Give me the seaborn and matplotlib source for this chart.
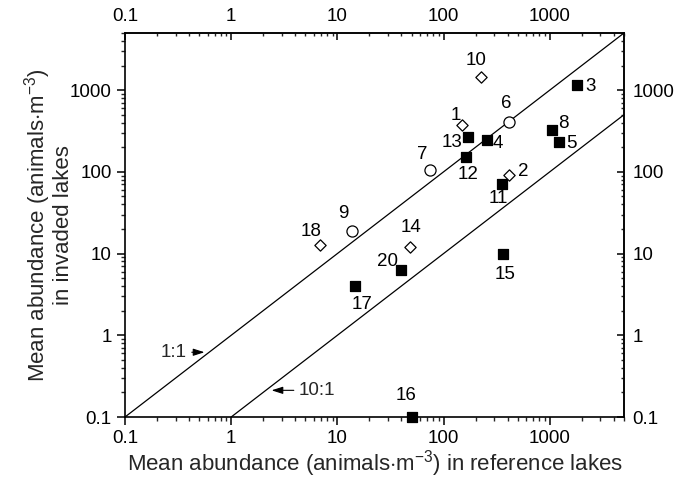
import numpy as np
import pandas as pd
import matplotlib
matplotlib.use("Agg")
import matplotlib.pyplot as plt
import seaborn as sns
from matplotlib.ticker import FixedLocator, FixedFormatter, LogLocator, NullFormatter

# ---------------- data ----------------
lake_ids = ["1", "2", "3", "4", "5", "6", "7", "8", "9", "10",
            "11", "12", "13", "14", "15", "16", "17", "18", "20"]
kinds = ["diamond", "diamond", "square", "square", "square", "circle", "circle",
         "square", "circle", "diamond", "square", "square", "square", "diamond",
         "square", "square", "square", "diamond", "square"]
reference_abund = [149, 412, 1794, 256, 1215, 412, 75, 1044, 13.8, 225,
                   354, 163, 170, 48.4, 362, 50, 14.8, 6.8, 39.9]
invaded_abund = [372, 91, 1148, 244, 230, 405, 105, 323, 18.8, 1438,
                 70, 151, 265, 11.9, 9.8, 0.1, 3.98, 12.6, 6.25]
ratios = [1, 10]
ratio_labels = ["1:1", "10:1"]
tick_values = [0.1, 1, 10, 100, 1000]
tick_labels = ["0.1", "1", "10", "100", "1000"]
axis_limits = [0.1, 5000]

# label offsets (pixels, right / down) for point numbers
label_dx = [-6, 14, 14, 11, 13, -3, -8, 12, -9, -5, -4, 2, -16, 1, 2, -6, 7, -9, -14]
label_dy = [-10, -4, 1, 3, 1, -19, -16, -7, -18, -17, 14, 17, 5, -20, 20, -22, 18, -14, -9]

df = pd.DataFrame({"id": lake_ids, "kind": kinds,
                   "ref": reference_abund, "inv": invaded_abund})

# ---------------- style ----------------
sns.set_theme(style="ticks")
plt.rcParams["font.family"] = ["Liberation Sans", "DejaVu Sans"]
plt.rcParams["mathtext.fontset"] = "custom"
plt.rcParams["mathtext.rm"] = "Liberation Sans"
plt.rcParams["mathtext.it"] = "Liberation Sans:italic"
plt.rcParams["axes.linewidth"] = 1.2

fig = plt.figure(figsize=(6.88, 4.84), dpi=100)
L, R, T, B = 125, 624, 33, 417
ax = fig.add_axes([L / 688, 1 - B / 484, (R - L) / 688, (B - T) / 484])
ax.set_xscale("log")
ax.set_yscale("log")
ax.set_xlim(*axis_limits)
ax.set_ylim(*axis_limits)

# reference lines
for r in ratios:
    xs = np.array([axis_limits[0] * r, axis_limits[1]], dtype=float)
    sns.lineplot(x=xs, y=xs / r, ax=ax, color="black", lw=0.9, zorder=2)

# points
marker_style = {
    "square": dict(marker="s", s=60, color="black", edgecolor="black"),
    "circle": dict(marker="o", s=64, color="white", edgecolor="black"),
    "diamond": dict(marker="D", s=33, color="white", edgecolor="black"),
}
for k, st in marker_style.items():
    sub = df[df["kind"] == k]
    sns.scatterplot(data=sub, x="ref", y="inv", ax=ax, linewidth=0.9,
                    clip_on=False, zorder=5, legend=False, **st)

px2pt = 0.72
for i, row in df.iterrows():
    ax.annotate(row["id"], (row["ref"], row["inv"]),
                xytext=(label_dx[i] * px2pt, -label_dy[i] * px2pt),
                textcoords="offset points", ha="center", va="center",
                fontsize=13.5, color="black", zorder=6)

# ratio-line annotations with arrows
ax.annotate(ratio_labels[0], xy=(0.56, 0.62), xytext=(0.29, 0.62),
            ha="center", va="center", fontsize=13.5,
            arrowprops=dict(arrowstyle="-|>,head_length=0.5,head_width=0.16",
                            color="black", lw=0.8, shrinkA=1, shrinkB=0))
ax.annotate(ratio_labels[1], xy=(2.4, 0.212), xytext=(4.3, 0.212),
            ha="left", va="center", fontsize=13.5,
            arrowprops=dict(arrowstyle="-|>,head_length=0.5,head_width=0.16",
                            color="black", lw=0.8, shrinkA=1, shrinkB=0))

# ticks
def setup_axis(axis):
    axis.set_major_locator(FixedLocator(tick_values))
    axis.set_major_formatter(FixedFormatter(tick_labels))
    axis.set_minor_locator(LogLocator(base=10, subs=np.arange(2, 10), numticks=20))
    axis.set_minor_formatter(NullFormatter())

setup_axis(ax.xaxis)
setup_axis(ax.yaxis)
ax.tick_params(which="major", direction="out", length=6, width=1.1,
               labelsize=13.5, pad=3.5, colors="black")
ax.tick_params(which="minor", direction="out", length=3, width=1.0)

secx = ax.secondary_xaxis("top")
secy = ax.secondary_yaxis("right")
for sec, axis in ((secx, secx.xaxis), (secy, secy.yaxis)):
    setup_axis(axis)
    sec.tick_params(which="major", direction="in", length=5, width=1.1,
                    labelsize=13.5, pad=6, colors="black")
    sec.tick_params(which="minor", direction="in", length=2.5, width=1.0)
    for sp in sec.spines.values():
        sp.set_linewidth(1.2)

for sp in ax.spines.values():
    sp.set_visible(True)
    sp.set_linewidth(1.2)
    sp.set_color("black")

ax.set_xlabel("Mean abundance (animals$\\cdot$m$^{-3}$) in reference lakes",
              fontsize=16, labelpad=1)
ax.set_ylabel("Mean abundance (animals$\\cdot$m$^{-3}$)\nin invaded lakes",
              fontsize=16, linespacing=1.0)
ax.yaxis.set_label_coords(-0.103, 0.5)

fig.savefig("out.png", dpi=100)
